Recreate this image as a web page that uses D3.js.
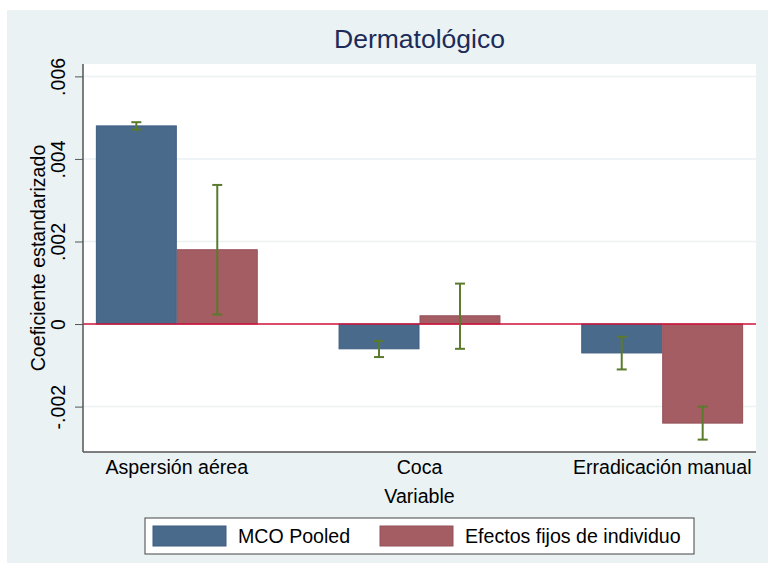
<!DOCTYPE html>
<html>
<head>
<meta charset="utf-8">
<script src="https://cdn.jsdelivr.net/npm/d3@7"></script>
<style>
  body { margin: 0; background: #fff; }
  text { font-family: "Liberation Sans", Arial, sans-serif; }
</style>
</head>
<body>
<div id="chart"></div>
<script>
// DATA
const categories = ["Aspersión aérea", "Coca", "Erradicación manual"];
const seriesNames = ["MCO Pooled", "Efectos fijos de individuo"];
const mcoValues = [0.0048, -0.0006, -0.0007];
const mcoLow = [0.00471, -0.0008, -0.0011];
const mcoHigh = [0.00489, -0.00041, -0.00031];
const efValues = [0.0018, 0.0002, -0.0024];
const efLow = [0.00023, -0.0006, -0.0028];
const efHigh = [0.00337, 0.00098, -0.002];
const yTicks = [-0.002, 0, 0.002, 0.004, 0.006];
const yTickLabels = ["-.002", "0", ".002", ".004", ".006"];

// SIZE & COLORS
const width = 768, height = 563;
const plot = { left: 83, right: 756, top: 64, bottom: 452 };
const colors = ["#4a6a8c", "#a45d62"];
const strokes = ["#3d5d80", "#94505a"];
const errColor = "#5a7a2c";
const bgColor = "#eaf2f3";
const fontSize = "19.6px";

const svg = d3.select("#chart").append("svg")
    .attr("width", width)
    .attr("height", height);

// BACKGROUND
svg.append("rect")
    .attr("x", 7).attr("y", 10)
    .attr("width", width - 7).attr("height", height - 10)
    .attr("fill", bgColor);

svg.append("rect")
    .attr("x", plot.left).attr("y", plot.top)
    .attr("width", plot.right - plot.left).attr("height", plot.bottom - plot.top)
    .attr("fill", "#fff");

// SCALES
const y = d3.scaleLinear()
    .domain([-0.0031, 0.0063])
    .range([plot.bottom, plot.top]);

const x = d3.scaleBand()
    .domain(categories)
    .range([plot.left, plot.right])
    .paddingInner(0.333)
    .paddingOuter(0.053);

const xSub = d3.scaleBand()
    .domain(seriesNames)
    .range([0, x.bandwidth()]);

// GRIDLINES
svg.append("g")
    .selectAll("line")
    .data(yTicks.filter(d => d !== 0))
    .enter().append("line")
    .attr("x1", plot.left).attr("x2", plot.right)
    .attr("y1", d => y(d)).attr("y2", d => y(d))
    .attr("stroke", bgColor)
    .attr("stroke-width", 1.5);

// BARS
const series = [
    { name: seriesNames[0], values: mcoValues, low: mcoLow, high: mcoHigh },
    { name: seriesNames[1], values: efValues, low: efLow, high: efHigh }
];

series.forEach(function (s, si) {
    svg.append("g")
        .selectAll("rect")
        .data(categories)
        .enter().append("rect")
        .attr("x", (c) => x(c) + xSub(s.name) + 0.5)
        .attr("width", xSub.bandwidth() - 1)
        .attr("y", (c, i) => y(Math.max(0, s.values[i])))
        .attr("height", (c, i) => Math.abs(y(s.values[i]) - y(0)))
        .attr("fill", colors[si])
        .attr("stroke", strokes[si])
        .attr("stroke-width", 1);
});

// ZERO LINE
svg.append("line")
    .attr("x1", plot.left).attr("x2", plot.right)
    .attr("y1", y(0)).attr("y2", y(0))
    .attr("stroke", "#d0103a")
    .attr("stroke-width", 1.5);

// ERROR BARS
series.forEach(function (s) {
    const g = svg.append("g")
        .attr("stroke", errColor)
        .attr("stroke-width", 2)
        .selectAll("g")
        .data(categories)
        .enter().append("g")
        .attr("transform", (c) => "translate(" + (x(c) + xSub(s.name) + xSub.bandwidth() / 2) + ",0)");

    g.append("line")
        .attr("x1", 0).attr("x2", 0)
        .attr("y1", (c, i) => y(s.low[i]))
        .attr("y2", (c, i) => y(s.high[i]));
    g.append("line")
        .attr("x1", -5).attr("x2", 5)
        .attr("y1", (c, i) => y(s.low[i]))
        .attr("y2", (c, i) => y(s.low[i]));
    g.append("line")
        .attr("x1", -5).attr("x2", 5)
        .attr("y1", (c, i) => y(s.high[i]))
        .attr("y2", (c, i) => y(s.high[i]));
});

// Y AXIS
const yAxis = svg.append("g")
    .attr("transform", "translate(" + plot.left + ",0)")
    .call(d3.axisLeft(y).tickValues(yTicks).tickSize(8).tickFormat((d, i) => yTickLabels[i]));
yAxis.select(".domain").attr("stroke", "#555").attr("stroke-width", 1.5)
    .attr("d", "M0," + plot.bottom + "V" + plot.top);
yAxis.selectAll(".tick line").attr("stroke", "#555");
yAxis.selectAll(".tick text")
    .attr("x", null).attr("dy", null)
    .attr("transform", "translate(-18,0) rotate(-90)")
    .attr("text-anchor", "middle")
    .attr("fill", "#000")
    .style("font-size", fontSize);

// X AXIS
const xAxis = svg.append("g")
    .attr("transform", "translate(0," + plot.bottom + ")")
    .call(d3.axisBottom(x).tickSize(0));
xAxis.select(".domain").attr("stroke", "#555").attr("stroke-width", 1.5)
    .attr("d", "M" + plot.left + ",0H" + plot.right);
xAxis.selectAll(".tick text")
    .attr("y", 22).attr("dy", null)
    .attr("fill", "#000")
    .style("font-size", fontSize);

// AXIS TITLES
svg.append("text")
    .attr("transform", "translate(45," + (plot.top + plot.bottom) / 2 + ") rotate(-90)")
    .attr("text-anchor", "middle")
    .style("font-size", fontSize)
    .text("Coeficiente estandarizado");

svg.append("text")
    .attr("x", (plot.left + plot.right) / 2)
    .attr("y", 503)
    .attr("text-anchor", "middle")
    .style("font-size", fontSize)
    .text("Variable");

// TITLE
svg.append("text")
    .attr("x", (plot.left + plot.right) / 2)
    .attr("y", 48)
    .attr("text-anchor", "middle")
    .attr("fill", "#1c2b59")
    .style("font-size", "26.5px")
    .text("Dermatológico");

// LEGEND
const legend = svg.append("g");
legend.append("rect")
    .attr("x", 145).attr("y", 518)
    .attr("width", 549).attr("height", 36)
    .attr("fill", "#fff")
    .attr("stroke", "#444")
    .attr("stroke-width", 1);

const legendX = [153, 380];
const items = legend.selectAll("g.item")
    .data(seriesNames)
    .enter().append("g")
    .attr("class", "item")
    .attr("transform", (d, i) => "translate(" + legendX[i] + ",526)");
items.append("rect")
    .attr("width", 73).attr("height", 20)
    .attr("fill", (d, i) => colors[i])
    .attr("stroke", (d, i) => strokes[i]);
items.append("text")
    .attr("x", 85).attr("y", 17)
    .style("font-size", fontSize)
    .text(d => d);
</script>
</body>
</html>
